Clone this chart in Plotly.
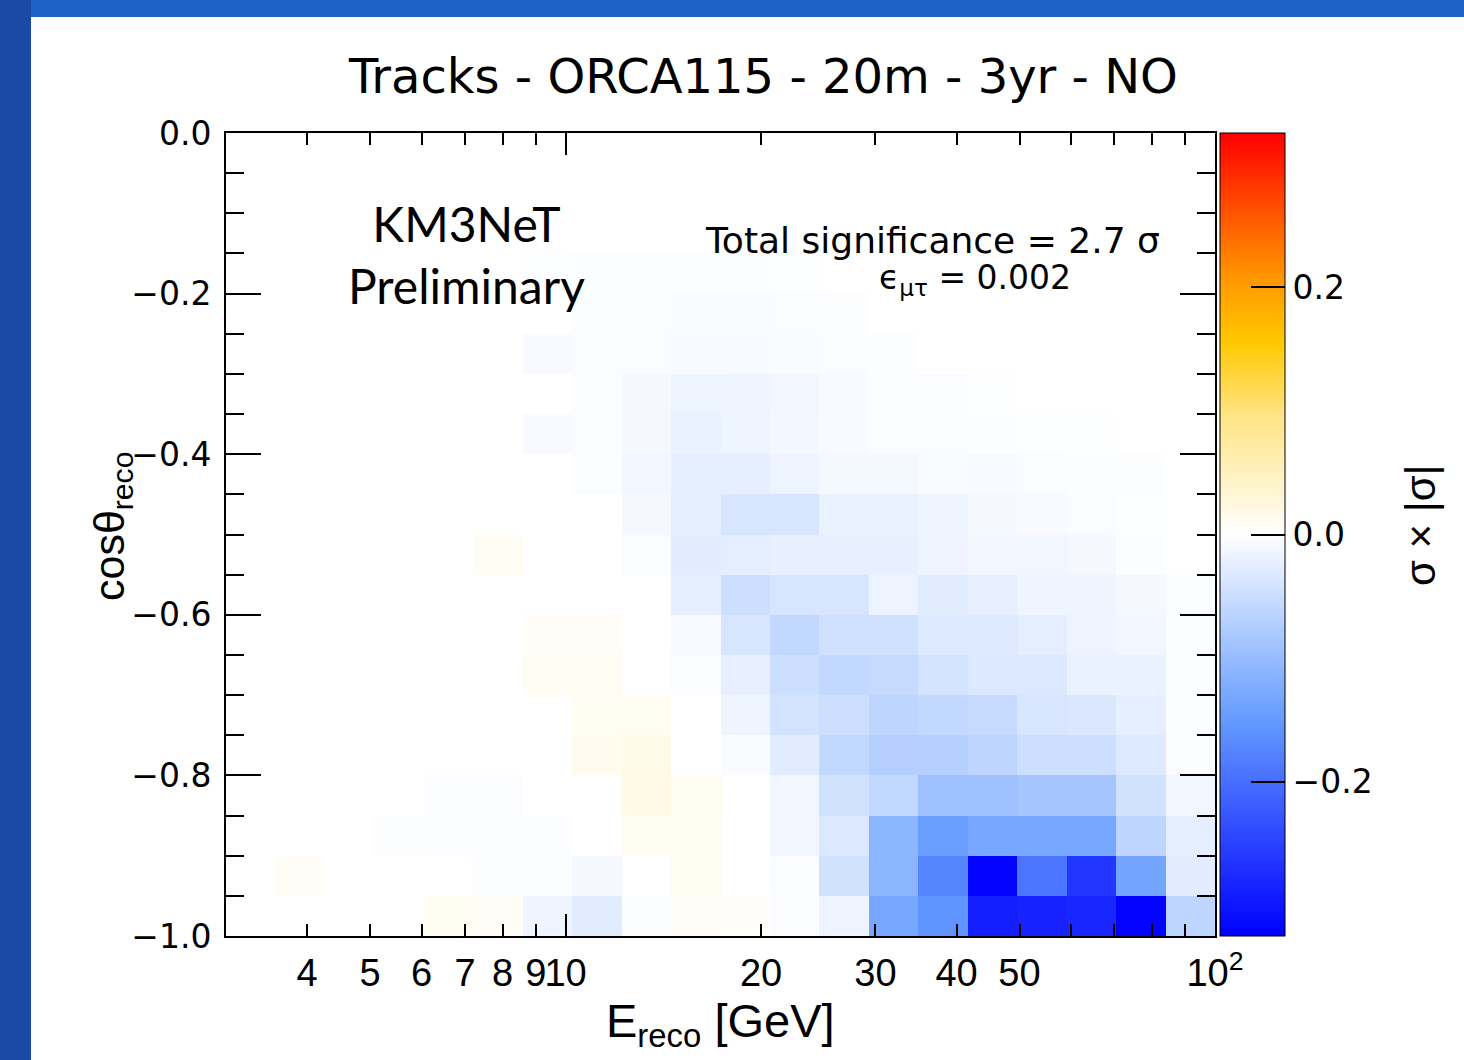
import plotly.graph_objects as go

# ---------------- data ----------------
# reconstructed energy bin edges [GeV] (20 log bins, 3 -> 100)
e_edges = [3.000, 3.575, 4.260, 5.076, 6.049, 7.209, 8.590, 10.236, 12.198, 14.536,
           17.321, 20.641, 24.597, 29.311, 34.928, 41.622, 49.598, 59.104, 70.430,
           83.928, 100.0]
# cos(theta_reco) bin edges
c_edges = [-1.00, -0.95, -0.90, -0.85, -0.80, -0.75, -0.70, -0.65, -0.60, -0.55, -0.50,
           -0.45, -0.40, -0.35, -0.30, -0.25, -0.20, -0.15, -0.10, -0.05, 0.00]

# sigma x |sigma| per bin, row 0 = cos in [-1.00,-0.95]
row00 = [0, 0, 0, 0, 0.010, 0.008, -0.015, -0.029, -0.003, 0.008, 0.004, -0.005, -0.016, -0.131, -0.159, -0.290, -0.286, -0.281, -0.320, -0.063]
row01 = [0, 0.008, 0, 0, 0, -0.003, -0.003, -0.010, 0, 0.010, 0, -0.005, -0.044, -0.111, -0.176, -0.320, -0.194, -0.264, -0.135, -0.029]
row02 = [0, 0, 0, -0.003, -0.005, -0.003, -0.005, 0, 0.010, 0.010, 0, -0.013, -0.034, -0.111, -0.145, -0.131, -0.131, -0.131, -0.063, -0.026]
row03 = [0, 0, 0, 0, -0.005, -0.004, 0, 0, 0.020, 0.012, 0, -0.013, -0.044, -0.058, -0.092, -0.092, -0.087, -0.087, -0.044, -0.013]
row04 = [0, 0, 0, 0, 0, 0, 0, 0.013, 0.018, 0, -0.006, -0.029, -0.058, -0.073, -0.071, -0.063, -0.048, -0.048, -0.032, -0.005]
row05 = [0, 0, 0, 0, 0, 0, 0, 0.010, 0.010, 0, -0.015, -0.042, -0.048, -0.063, -0.058, -0.055, -0.039, -0.036, -0.024, -0.003]
row06 = [0, 0, 0, 0, 0, 0, 0.009, 0.009, 0, -0.005, -0.022, -0.048, -0.058, -0.055, -0.042, -0.034, -0.034, -0.019, -0.019, -0.003]
row07 = [0, 0, 0, 0, 0, 0, 0.008, 0.008, 0, -0.007, -0.039, -0.058, -0.045, -0.045, -0.032, -0.032, -0.026, -0.016, -0.013, -0.003]
row08 = [0, 0, 0, 0, 0, 0, 0, 0, 0, -0.024, -0.048, -0.039, -0.039, -0.016, -0.029, -0.022, -0.015, -0.015, -0.010, -0.005]
row09 = [0, 0, 0, 0, 0, 0.009, 0, 0, -0.005, -0.029, -0.026, -0.022, -0.022, -0.022, -0.016, -0.013, -0.013, -0.010, -0.003, 0]
row10 = [0, 0, 0, 0, 0, 0, 0, 0, -0.010, -0.024, -0.039, -0.039, -0.019, -0.019, -0.015, -0.010, -0.007, -0.005, -0.002, 0]
row11 = [0, 0, 0, 0, 0, 0, 0, -0.005, -0.013, -0.024, -0.024, -0.016, -0.011, -0.011, -0.006, -0.007, -0.005, -0.003, -0.003, 0]
row12 = [0, 0, 0, 0, 0, 0, -0.007, -0.005, -0.010, -0.019, -0.015, -0.012, -0.007, -0.005, -0.005, -0.003, -0.002, -0.002, 0, 0]
row13 = [0, 0, 0, 0, 0, 0, 0, -0.004, -0.010, -0.016, -0.015, -0.013, -0.008, -0.005, -0.004, -0.002, 0, 0, 0, 0]
row14 = [0, 0, 0, 0, 0, 0, -0.007, -0.004, -0.005, -0.007, -0.008, -0.006, -0.005, -0.003, 0, 0, 0, 0, 0, 0]
row15 = [0, 0, 0, 0, 0, 0, 0, -0.004, -0.004, -0.006, -0.006, -0.005, -0.003, 0, 0, 0, 0, 0, 0, 0]
row16 = [0, 0, 0, 0, 0, 0, -0.002, -0.003, -0.003, -0.003, -0.003, -0.002, 0, 0, 0, 0, 0, 0, 0, 0]
row17 = [0] * 20
row18 = [0] * 20
row19 = [0] * 20
z_rows = [row00, row01, row02, row03, row04, row05, row06, row07, row08, row09,
          row10, row11, row12, row13, row14, row15, row16, row17, row18, row19]

x_tickvals = [4, 5, 6, 7, 8, 9, 10, 20, 30, 40, 50, 100]
x_ticktext = ["4", "5", "6", "7", "8", "9", "10", "20", "30", "40", "50", "10<sup>2</sup>"]
x_long_ticks = [10, 100]
x_unlabelled_ticks = [60, 70, 80, 90]
y_tickvals = [-1.0, -0.8, -0.6, -0.4, -0.2, 0.0]
cb_tickvals = [-0.2, 0.0, 0.2]
cb_ticktext = ["\u22120.2", "0.0", "0.2"]

# ---------------- layout geometry ----------------
W, H = 1464, 1060
L, R, T, B = 226, 1215, 133, 936
PW, PH = R - L, B - T


def px(xp):
    return (xp - L) / PW


def py(yp):
    return (B - yp) / PH


FONT = "Liberation Sans, Arial, sans-serif"
WIDE = "DejaVu Sans, Verdana, sans-serif"

colorscale = [
    [0.00, "rgb(0,0,255)"],
    [0.27, "rgb(100,155,255)"],
    [0.50, "rgb(255,255,255)"],
    [0.65, "rgb(255,228,130)"],
    [0.74, "rgb(255,200,0)"],
    [0.82, "rgb(255,150,0)"],
    [1.00, "rgb(255,0,0)"],
]

fig = go.Figure()
fig.add_trace(go.Heatmap(
    x=e_edges, y=c_edges, z=z_rows,
    colorscale=colorscale, zmin=-0.325, zmax=0.325,
    hoverinfo="skip",
    colorbar=dict(
        x=px(1220), xanchor="left", xpad=0, xref="paper",
        y=0.5, yanchor="middle", len=1.0, lenmode="fraction", ypad=0,
        thickness=65, thicknessmode="pixels",
        outlinewidth=1, outlinecolor="black",
        tickvals=cb_tickvals, ticktext=cb_ticktext,
        ticks="inside", ticklen=34, tickwidth=1.5, tickcolor="black",
        tickfont=dict(family=WIDE, size=33, color="black"),
    ),
))
# extra overlay axes for the longer decade ticks and the unlabelled ticks
fig.add_trace(go.Scatter(x=[], y=[], xaxis="x2", showlegend=False, hoverinfo="skip"))
fig.add_trace(go.Scatter(x=[], y=[], xaxis="x3", showlegend=False, hoverinfo="skip"))

fig.update_layout(
    width=W, height=H,
    margin=dict(l=L, r=W - R, t=T, b=H - B, pad=0),
    paper_bgcolor="white", plot_bgcolor="white",
    showlegend=False,
    xaxis=dict(
        type="log", range=[0.47712, 2.0],
        tickvals=x_tickvals, ticktext=x_ticktext, tickangle=0,
        ticks="inside", ticklen=12, tickwidth=2, tickcolor="black",
        showline=True, linecolor="black", linewidth=2, mirror="ticks",
        showgrid=False, zeroline=False,
        tickfont=dict(family=FONT, size=38, color="black"),
        ticklabelstandoff=2,
    ),
    xaxis2=dict(
        type="log", range=[0.47712, 2.0], overlaying="x", anchor="y", side="bottom",
        tickvals=x_long_ticks, showticklabels=False,
        ticks="inside", ticklen=22, tickwidth=2, tickcolor="black",
        mirror="ticks", showline=False, showgrid=False, zeroline=False,
    ),
    xaxis3=dict(
        type="log", range=[0.47712, 2.0], overlaying="x", anchor="y", side="bottom",
        tickvals=x_unlabelled_ticks, showticklabels=False,
        ticks="inside", ticklen=12, tickwidth=2, tickcolor="black",
        mirror="ticks", showline=False, showgrid=False, zeroline=False,
    ),
    yaxis=dict(
        range=[-1.0, 0.0],
        tickvals=y_tickvals, tickformat=".1f",
        ticks="inside", ticklen=35, tickwidth=2, tickcolor="black",
        minor=dict(dtick=0.05, ticks="inside", ticklen=18, tickwidth=2, tickcolor="black", showgrid=False),
        showline=True, linecolor="black", linewidth=2, mirror="ticks",
        showgrid=False, zeroline=False,
        tickfont=dict(family=WIDE, size=33, color="black"),
        ticklabelstandoff=6,
    ),
    shapes=[
        dict(type="rect", xref="paper", yref="paper", layer="below",
             x0=px(0), x1=px(31), y0=py(H), y1=py(0),
             fillcolor="#1b4aa5", line=dict(width=0)),
        dict(type="rect", xref="paper", yref="paper", layer="below",
             x0=px(31), x1=px(W), y0=py(17), y1=py(0),
             fillcolor="#1d63c6", line=dict(width=0)),
    ],
    annotations=[
        dict(text="Tracks - ORCA115 - 20m - 3yr - NO", xref="paper", yref="paper",
             x=px(763), y=py(76), xanchor="center", yanchor="middle", showarrow=False,
             font=dict(family=WIDE, size=48, color="black")),
        dict(text="KM3NeT<br>Preliminary", xref="paper", yref="paper",
             x=px(466), y=py(254), xanchor="center", yanchor="middle", showarrow=False,
             font=dict(family="Lato, Carlito, sans-serif", size=48, color="black")),
        dict(text="Total significance = 2.7 \u03c3", xref="paper", yref="paper",
             x=px(932), y=py(240), xanchor="center", yanchor="middle", showarrow=False,
             font=dict(family=WIDE, size=36, color="black")),
        dict(text="\u03f5<sub>\u03bc\u03c4</sub> = 0.002", xref="paper", yref="paper",
             x=px(975), y=py(279), xanchor="center", yanchor="middle", showarrow=False,
             font=dict(family=WIDE, size=33, color="black")),
        dict(text="cos\u03b8<sub>reco</sub>", xref="paper", yref="paper",
             x=px(112), y=py(527), xanchor="center", yanchor="middle", showarrow=False,
             textangle=-90, font=dict(family=FONT, size=43, color="black")),
        dict(text="E<sub>reco</sub> [GeV]", xref="paper", yref="paper",
             x=px(720), y=py(1024), xanchor="center", yanchor="middle", showarrow=False,
             font=dict(family=FONT, size=47, color="black")),
        dict(text="\u03c3 \u00d7 |\u03c3|", xref="paper", yref="paper",
             x=px(1420), y=py(525), xanchor="center", yanchor="middle", showarrow=False,
             textangle=-90, font=dict(family=FONT, size=42, color="black")),
    ],
)

fig.write_html("out.html")
